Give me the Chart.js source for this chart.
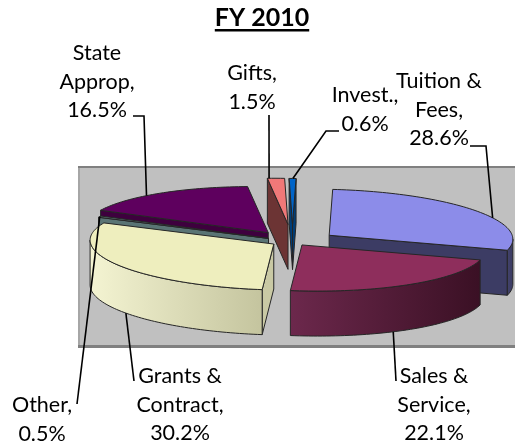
<!DOCTYPE html>
<html>
<head>
<meta charset="utf-8">
<script src="https://cdn.jsdelivr.net/npm/chart.js@4/dist/chart.umd.min.js"></script>
<style>
  html, body { margin: 0; padding: 0; background: #fff; }
  #chart { display: block; }
</style>
</head>
<body>
<canvas id="chart" width="515" height="446"></canvas>
<script>
// --- data ---
const categories = ['Tuition & Fees', 'Sales & Service', 'Grants & Contract', 'Other', 'State Approp', 'Gifts', 'Invest.'];
const values = [28.6, 22.1, 30.2, 0.5, 16.5, 1.5, 0.6];
const chartTitle = 'FY 2010';

// --- styling ---
const topColors   = ['#8c8ce9', '#8e2e5c', '#eeeebe', '#5c7878', '#5e005e', '#f07878', '#0064c8'];
const wallLight   = ['#42426a', '#6c284c', '#f4f4d2', '#5e7a7a', '#460046', '#6e3636', '#00457f'];
const wallDark    = ['#3a3a62', '#3a1024', '#c4c49e', '#5a7676', '#3a003a', '#6a3232', '#003c72'];
const sideColors  = ['#3c3c64', '#4a1a34', '#c9c9a4', '#5a7474', '#3e003e', '#6c3434', '#003e78'];
const explode     = [46, 16, 22, 26, 41, 68, 68];   // px each slice is pulled out (in the pie plane)
const TILT = 0.252;                                  // vertical squash of the pie plane
const SHEAR = 0.0857;                                // slight oblique lean of the 3D view
const DEPTH = 45;                                    // slab thickness in px
const FONT = 'Lato, "Open Sans", sans-serif';

// label placement: centre x / first baseline, leader path from label, attach point on slice
const labelPos     = [[439, 88], [434, 383], [180, 383], [42, 412], [97, 60], [252, 80], [365, 102]];
const leaderFrom   = [[[470, 146], [486, 146]], [[396, 381]], [[134, 381]], [[77, 404]],
                      [[133, 116], [144, 116]], [[269, 115]], [[339, 131], [326, 131]]];
const leaderAttach = [[0.6, 0], [0.58, 1], [0.46, 1], [0.5, 0], [0.41, 0], [0.1, 0], [0.54, 0]];

function labelLines(name, v) {
    const words = name.split(' ');
    const lines = words.length > 1
        ? [words.slice(0, -1).join(' '), words[words.length - 1] + ',']
        : [name + ','];
    lines.push(v.toFixed(1) + '%');
    return lines;
}

// slice geometry comes straight from Chart.js arc elements
function sliceGeom(chart) {
    const meta = chart.getDatasetMeta(0);
    return meta.data.map((arc, i) => {
        const p = arc.getProps(['x', 'y', 'startAngle', 'endAngle', 'outerRadius'], true);
        const mid = (p.startAngle + p.endAngle) / 2;
        return {
            i, mid, a0: p.startAngle, a1: p.endAngle, r: p.outerRadius, cx: p.x, cy: p.y,
            ox: Math.cos(mid) * explode[i], oy: Math.sin(mid) * explode[i]
        };
    });
}

// pie-plane offset (dx, dy) from centre -> screen, h = drop below the top face
function project(s, dx, dy, h) {
    return [s.cx + dx + SHEAR * dy, s.cy + TILT * dy + h];
}
function rimPoint(s, a, h) {
    return project(s, s.ox + s.r * Math.cos(a), s.oy + s.r * Math.sin(a), h);
}
function tipPoint(s, h) {
    return project(s, s.ox, s.oy, h);
}
function traceRim(ctx, s, from, to, h) {
    const n = Math.max(2, Math.ceil(Math.abs(to - from) * 40));
    for (let k = 0; k <= n; k++) {
        const p = rimPoint(s, from + (to - from) * k / n, h);
        ctx.lineTo(p[0], p[1]);
    }
}

function drawSlice(ctx, s) {
    ctx.lineWidth = 1;
    ctx.strokeStyle = '#262626';
    ctx.lineJoin = 'round';
    const edgeX = a => Math.cos(a) + SHEAR * Math.sin(a);

    // flat walls along the cut edges, only those facing the viewer
    [[s.a0, edgeX(s.a0) < -1e-6], [s.a1, edgeX(s.a1) > 1e-6]].forEach(([a, visible]) => {
        if (!visible) return;
        const t0 = tipPoint(s, 0), t1 = tipPoint(s, DEPTH);
        const r0 = rimPoint(s, a, 0), r1 = rimPoint(s, a, DEPTH);
        ctx.beginPath();
        ctx.moveTo(t0[0], t0[1]);
        ctx.lineTo(r0[0], r0[1]);
        ctx.lineTo(r1[0], r1[1]);
        ctx.lineTo(t1[0], t1[1]);
        ctx.closePath();
        ctx.fillStyle = sideColors[s.i];
        ctx.fill();
        ctx.stroke();
    });

    // curved outer wall, front half only
    const turn = Math.atan(SHEAR);
    const lo = Math.max(s.a0, turn), hi = Math.min(s.a1, Math.PI + turn);
    if (hi > lo) {
        const pl = rimPoint(s, hi, 0), pr = rimPoint(s, lo, 0);
        const g = ctx.createLinearGradient(Math.min(pl[0], pr[0]), 0, Math.max(pl[0], pr[0]) + 1, 0);
        g.addColorStop(0, wallLight[s.i]);
        g.addColorStop(1, wallDark[s.i]);
        ctx.beginPath();
        const st = rimPoint(s, lo, 0);
        ctx.moveTo(st[0], st[1]);
        traceRim(ctx, s, lo, hi, 0);
        traceRim(ctx, s, hi, lo, DEPTH);
        ctx.closePath();
        ctx.fillStyle = g;
        ctx.fill();
        ctx.stroke();
    }

    // top face
    const t = tipPoint(s, 0);
    ctx.beginPath();
    ctx.moveTo(t[0], t[1]);
    traceRim(ctx, s, s.a0, s.a1, 0);
    ctx.closePath();
    ctx.fillStyle = topColors[s.i];
    ctx.fill();
    ctx.stroke();
}

const pie3d = {
    id: 'pie3d',
    beforeDatasetsDraw(chart) {
        // grey plot area behind the pie
        const ctx = chart.ctx;
        ctx.save();
        ctx.fillStyle = '#c0c0c0';
        ctx.fillRect(79, 168, 440, 178);
        ctx.fillStyle = '#a6a6a6';
        ctx.fillRect(78, 167, 2, 180);
        ctx.fillStyle = '#808080';
        ctx.fillRect(78, 166, 440, 2);
        ctx.fillRect(78, 345, 440, 3);
        ctx.restore();
    },
    beforeDatasetDraw() {
        return false; // the flat arcs are replaced by the 3D slabs below
    },
    afterDatasetsDraw(chart) {
        const ctx = chart.ctx;
        const slices = sliceGeom(chart).slice().sort((p, q) => Math.sin(p.mid) - Math.sin(q.mid));
        ctx.save();
        slices.forEach(s => drawSlice(ctx, s));
        ctx.restore();
    },
    afterDraw(chart) {
        const ctx = chart.ctx;
        const geom = sliceGeom(chart);
        ctx.save();

        // title, bold and underlined
        ctx.font = 'bold 25px ' + FONT;
        ctx.fillStyle = '#000';
        ctx.textAlign = 'center';
        ctx.textBaseline = 'alphabetic';
        ctx.fillText(chartTitle, 262, 26);
        const tw = ctx.measureText(chartTitle).width;
        ctx.fillRect(262 - tw / 2, 29, tw, 2.5);

        // data labels with leader lines
        ctx.font = '21.5px ' + FONT;
        categories.forEach((name, i) => {
            const lines = labelLines(name, values[i]);
            const [lx, ly] = labelPos[i];
            lines.forEach((t, k) => ctx.fillText(t, lx, ly + k * 28.5));

            const s = geom[i];
            const [t, bottom] = leaderAttach[i];
            const end = rimPoint(s, s.a0 + t * (s.a1 - s.a0), bottom ? DEPTH : 0);
            const path = leaderFrom[i];
            ctx.beginPath();
            ctx.moveTo(path[0][0], path[0][1]);
            for (let k = 1; k < path.length; k++) ctx.lineTo(path[k][0], path[k][1]);
            ctx.lineTo(end[0], end[1]);
            ctx.lineWidth = 1.6;
            ctx.strokeStyle = '#000';
            ctx.stroke();
        });
        ctx.restore();
    }
};

new Chart(document.getElementById('chart').getContext('2d'), {
    type: 'pie',
    data: {
        labels: categories,
        datasets: [{ data: values, backgroundColor: topColors, borderWidth: 0 }]
    },
    options: {
        responsive: false,
        animation: false,
        devicePixelRatio: 1,
        radius: 183,
        rotation: 6,
        events: [],
        layout: { padding: { left: 70, right: 0, top: 37, bottom: 0 } },
        plugins: {
            legend: { display: false },
            tooltip: { enabled: false },
            title: { display: false }
        }
    },
    plugins: [pie3d]
});
</script>
</body>
</html>
